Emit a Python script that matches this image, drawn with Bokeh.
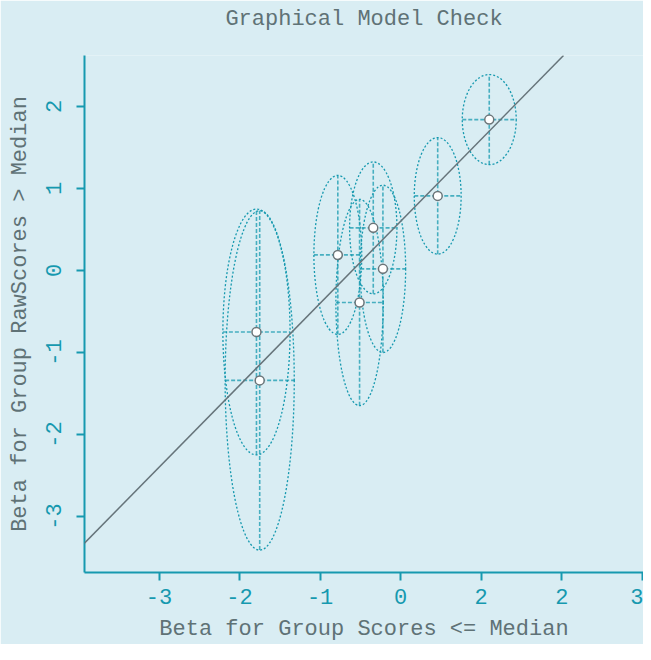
from bokeh.plotting import figure
from bokeh.models import Slope, FixedTicker, Range1d, ColumnDataSource, Title
from bokeh.embed import file_html
from bokeh.resources import INLINE

# --- data ---
beta_low = [1.70, 1.06, 0.26, -0.18, 0.38, 0.09, -1.19, -1.15]     # x: Beta, scores <= median
beta_high = [1.84, 0.91, 0.52, 0.19, 0.02, -0.39, -0.75, -1.34]    # y: Beta, scores > median
conf_x = [0.335, 0.291, 0.294, 0.297, 0.282, 0.294, 0.417, 0.429]  # half-width of confidence ellipse
conf_y = [0.549, 0.711, 0.805, 0.970, 1.020, 1.260, 1.500, 2.070]  # half-height of confidence ellipse

x_tick_vals = [-2.4, -1.4, -0.4, 0.6, 1.6, 2.6, 3.6]
x_tick_labels = ["-3", "-2", "-1", "0", "2", "2", "3"]
y_tick_vals = [-3, -2, -1, 0, 1, 2]
y_tick_labels = ["-3", "-2", "-1", "0", "1", "2"]

BG = "#d9edf3"
TEAL = "#1699af"
GRAY = "#5f7276"
FONT = "Liberation Mono"

src = ColumnDataSource(dict(
    x=beta_low, y=beta_high,
    w=[2 * a for a in conf_x], h=[2 * b for b in conf_y],
    x0=[x - a for x, a in zip(beta_low, conf_x)],
    x1=[x + a for x, a in zip(beta_low, conf_x)],
    y0=[y - b for y, b in zip(beta_high, conf_y)],
    y1=[y + b for y, b in zip(beta_high, conf_y)],
))

p = figure(width=643, height=644, output_backend="svg", toolbar_location=None,
           x_range=Range1d(-3.325, 3.615), y_range=Range1d(-3.683, 2.622),
           x_axis_label="Beta for Group Scores <= Median",
           y_axis_label="Beta for Group RawScores > Median",
           min_border_left=84, min_border_right=0, min_border_top=55, min_border_bottom=72)

p.background_fill_color = BG
p.border_fill_color = BG
p.outline_line_color = None
p.grid.visible = False

# blank spacer next to the frame, then the real title further out
p.add_layout(Title(text=" ", standoff=17, text_font_size="1px"), "above")
p.add_layout(Title(text="Graphical Model Check", align="center", text_font=FONT,
                   text_font_size="22px", text_font_style="normal",
                   text_color=GRAY, standoff=8), "above")

for ax in (p.xaxis[0], p.yaxis[0]):
    ax.axis_line_color = TEAL
    ax.axis_line_width = 2
    ax.major_tick_line_color = TEAL
    ax.major_tick_line_width = 2
    ax.major_tick_in = 0
    ax.major_tick_out = 8
    ax.minor_tick_line_color = None
    ax.major_label_text_font = FONT
    ax.major_label_text_font_size = "22px"
    ax.major_label_text_color = TEAL
    ax.axis_label_text_font = FONT
    ax.axis_label_text_font_size = "22px"
    ax.axis_label_text_font_style = "normal"
    ax.axis_label_text_color = GRAY

p.xaxis[0].ticker = FixedTicker(ticks=x_tick_vals)
p.xaxis[0].major_label_overrides = dict(zip(x_tick_vals, x_tick_labels))
p.xaxis[0].major_label_standoff = 8
p.xaxis[0].axis_label_standoff = 10
p.yaxis[0].ticker = FixedTicker(ticks=y_tick_vals)
p.yaxis[0].major_label_overrides = dict(zip(y_tick_vals, y_tick_labels))
p.yaxis[0].major_label_orientation = "vertical"
p.yaxis[0].major_label_standoff = 15
p.yaxis[0].axis_label_standoff = 11

# identity line
p.add_layout(Slope(gradient=1, y_intercept=0, line_color="#66747a", line_width=1.5))

# confidence ellipses and their axes
p.ellipse(x="x", y="y", width="w", height="h", source=src, fill_alpha=0,
          line_color=TEAL, line_width=1.3, line_dash="2 2")
p.segment(x0="x0", y0="y", x1="x1", y1="y", source=src,
          line_color=TEAL, line_width=1.6, line_alpha=0.75, line_dash="4 2")
p.segment(x0="x", y0="y0", x1="x", y1="y1", source=src,
          line_color=TEAL, line_width=1.6, line_alpha=0.75, line_dash="4 2")

p.scatter(x="x", y="y", source=src, size=9, fill_color="white",
          line_color="#6b7478", line_width=1.5)

open("out.html", "w").write(file_html(p, INLINE))
